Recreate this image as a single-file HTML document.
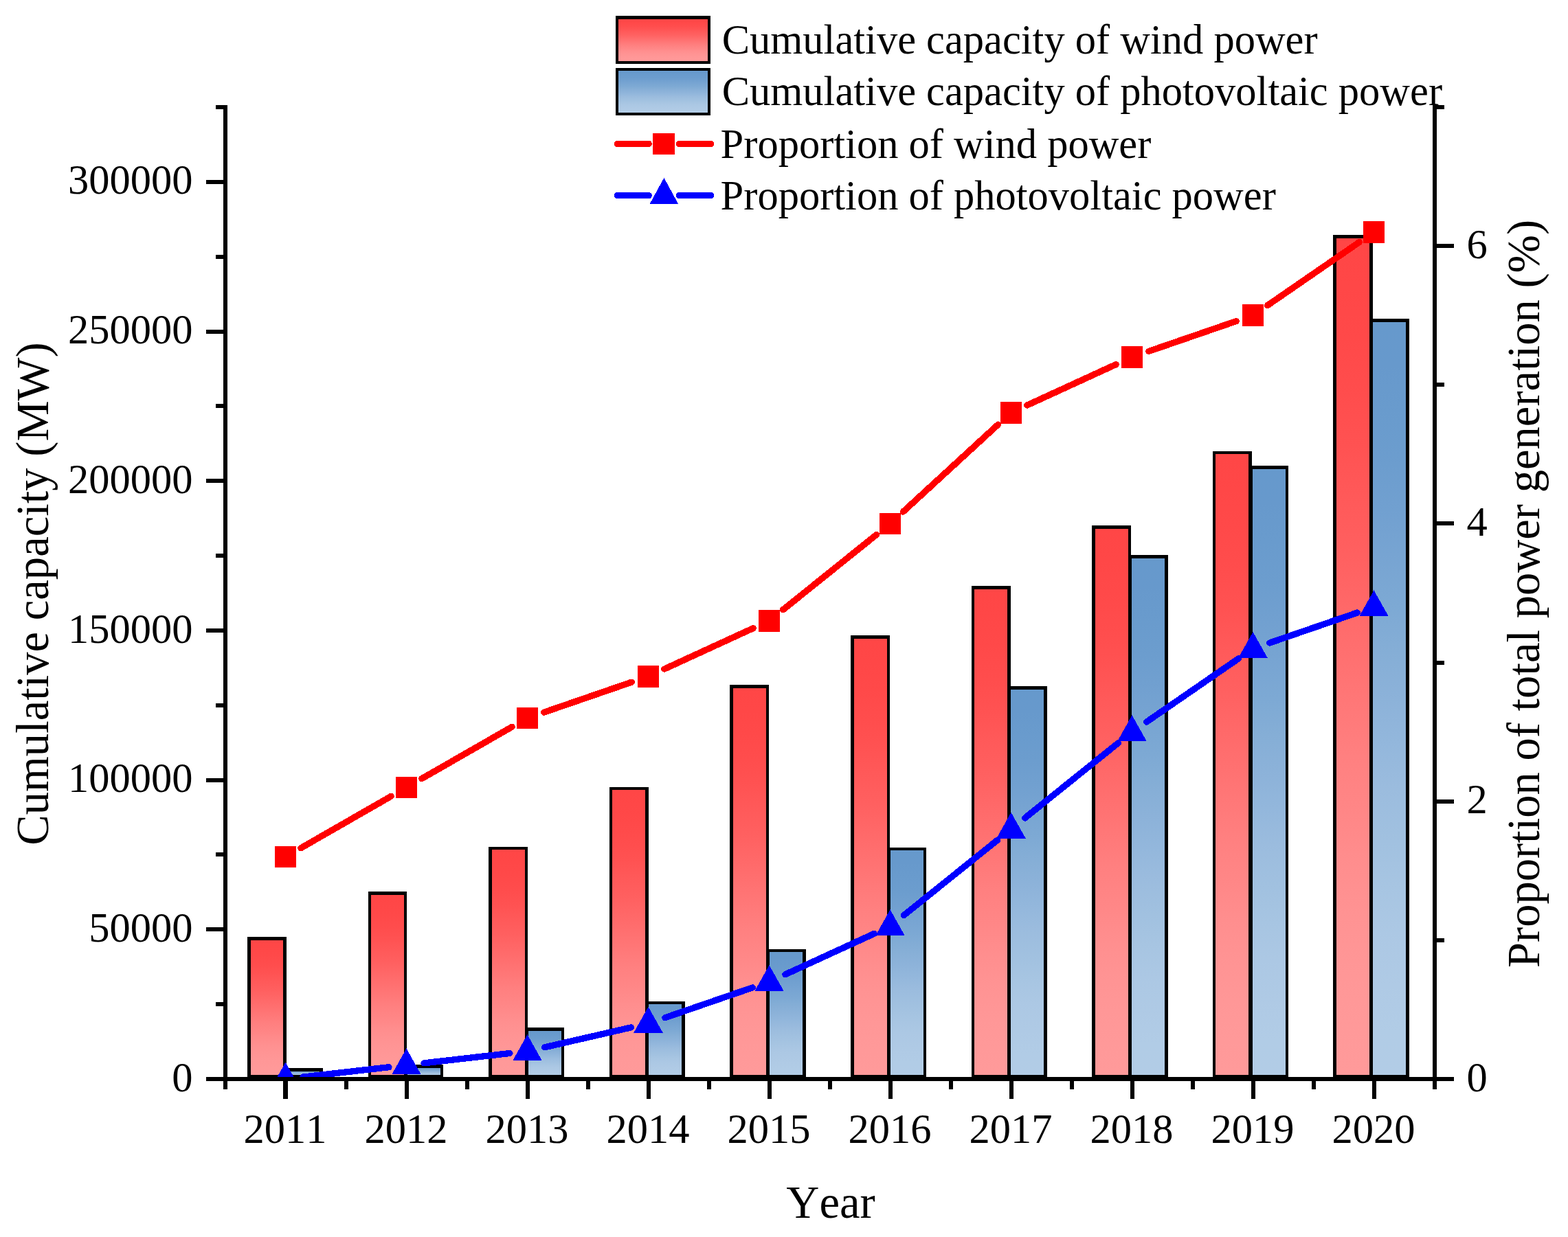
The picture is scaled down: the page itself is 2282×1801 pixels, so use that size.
<!DOCTYPE html>
<html lang="en"><head><meta charset="utf-8"><title>Cumulative capacity and proportion of wind and photovoltaic power</title>
<style>
html,body{margin:0;padding:0;background:#fff;}
body{width:2282px;height:1801px;overflow:hidden;}
svg{display:block;}
text{font-family:"Liberation Serif","Times New Roman",Times,serif;fill:#000;font-kerning:none;}
.t{font-size:60.5px;}
.a{font-size:66.6px;}
.ax{fill:#000;shape-rendering:crispEdges;}
.bar{stroke:#000;stroke-width:4.5;stroke-linejoin:miter;shape-rendering:crispEdges;}
.rl{stroke:#f00;stroke-width:9.3;stroke-linecap:round;fill:none;shape-rendering:crispEdges;}
.bl{stroke:#00f;stroke-width:9.3;stroke-linecap:round;fill:none;shape-rendering:crispEdges;}
.rm{fill:#f00;shape-rendering:crispEdges;}
.bm{fill:#00f;shape-rendering:crispEdges;}
</style></head><body>
<svg width="2282" height="1801" viewBox="0 0 2282 1801">
<defs>
<linearGradient id="gr" x1="0" y1="0" x2="0" y2="1"><stop offset="0" stop-color="#FF4646"/><stop offset="0.06" stop-color="#FF4747"/><stop offset="0.12" stop-color="#FF4949"/><stop offset="0.19" stop-color="#FF4D4D"/><stop offset="0.25" stop-color="#FF5252"/><stop offset="0.31" stop-color="#FF5959"/><stop offset="0.38" stop-color="#FF6060"/><stop offset="0.44" stop-color="#FF6868"/><stop offset="0.5" stop-color="#FF7070"/><stop offset="0.56" stop-color="#FF7878"/><stop offset="0.62" stop-color="#FF8080"/><stop offset="0.69" stop-color="#FF8787"/><stop offset="0.75" stop-color="#FF8E8E"/><stop offset="0.81" stop-color="#FF9393"/><stop offset="0.88" stop-color="#FF9797"/><stop offset="0.94" stop-color="#FF9999"/><stop offset="1" stop-color="#FF9A9A"/></linearGradient>
<linearGradient id="gb" x1="0" y1="0" x2="0" y2="1"><stop offset="0" stop-color="#6699CC"/><stop offset="0.06" stop-color="#6799CC"/><stop offset="0.12" stop-color="#699BCD"/><stop offset="0.19" stop-color="#6C9DCE"/><stop offset="0.25" stop-color="#71A0D0"/><stop offset="0.31" stop-color="#77A4D2"/><stop offset="0.38" stop-color="#7DA9D4"/><stop offset="0.44" stop-color="#85AED6"/><stop offset="0.5" stop-color="#8CB2D9"/><stop offset="0.56" stop-color="#93B7DC"/><stop offset="0.62" stop-color="#9BBCDE"/><stop offset="0.69" stop-color="#A1C1E0"/><stop offset="0.75" stop-color="#A7C5E2"/><stop offset="0.81" stop-color="#ACC8E4"/><stop offset="0.88" stop-color="#AFCAE5"/><stop offset="0.94" stop-color="#B1CCE6"/><stop offset="1" stop-color="#B2CCE6"/></linearGradient>
<clipPath id="cp"><rect x="328.0" y="0" width="1760.0" height="1571.0"/></clipPath>
</defs>
<rect x="0" y="0" width="2282" height="1801" fill="#fff"/>
<g id="bars">
<rect class="bar" fill="url(#gr)" x="362.25" y="1366.45" width="52.35" height="200.55"/>
<rect class="bar" fill="url(#gb)" x="415.2" y="1557.25" width="52.35" height="9.75"/>
<rect class="bar" fill="url(#gr)" x="537.85" y="1300.55" width="52.39" height="266.45"/>
<rect class="bar" fill="url(#gb)" x="590.84" y="1552.25" width="52.39" height="14.75"/>
<rect class="bar" fill="url(#gr)" x="713.45" y="1235.05" width="52.43" height="331.95"/>
<rect class="bar" fill="url(#gb)" x="766.48" y="1498.65" width="52.43" height="68.35"/>
<rect class="bar" fill="url(#gr)" x="889.05" y="1148.05" width="52.47" height="418.95"/>
<rect class="bar" fill="url(#gb)" x="942.12" y="1459.85" width="52.47" height="107.15"/>
<rect class="bar" fill="url(#gr)" x="1064.65" y="999.35" width="52.51" height="567.65"/>
<rect class="bar" fill="url(#gb)" x="1117.76" y="1383.75" width="52.51" height="183.25"/>
<rect class="bar" fill="url(#gr)" x="1240.25" y="927.25" width="52.55" height="639.75"/>
<rect class="bar" fill="url(#gb)" x="1293.4" y="1235.75" width="52.55" height="331.25"/>
<rect class="bar" fill="url(#gr)" x="1415.85" y="855.25" width="52.59" height="711.75"/>
<rect class="bar" fill="url(#gb)" x="1469.04" y="1001.25" width="52.59" height="565.75"/>
<rect class="bar" fill="url(#gr)" x="1591.45" y="767.25" width="52.63" height="799.75"/>
<rect class="bar" fill="url(#gb)" x="1644.68" y="810.35" width="52.63" height="756.65"/>
<rect class="bar" fill="url(#gr)" x="1767.05" y="658.75" width="52.67" height="908.25"/>
<rect class="bar" fill="url(#gb)" x="1820.32" y="680.55" width="52.67" height="886.45"/>
<rect class="bar" fill="url(#gr)" x="1942.65" y="344.45" width="52.71" height="1222.55"/>
<rect class="bar" fill="url(#gb)" x="1995.96" y="466.25" width="52.71" height="1100.75"/>
</g>
<g clip-path="url(#cp)">
<line class="rl" x1="437.79" y1="1234.77" x2="569.21" y2="1159.3"/>
<line class="rl" x1="613.79" y1="1133.7" x2="745.21" y2="1058.23"/>
<line class="rl" x1="791.8" y1="1037.06" x2="919.2" y2="993.16"/>
<line class="rl" x1="966.85" y1="974.06" x2="1096.15" y2="914.66"/>
<line class="rl" x1="1139.53" y1="887.83" x2="1275.47" y2="778.53"/>
<line class="rl" x1="1314.42" y1="745.04" x2="1452.58" y2="618.1"/>
<line class="rl" x1="1494.85" y1="589.99" x2="1624.15" y2="530.59"/>
<line class="rl" x1="1671.8" y1="511.48" x2="1799.2" y2="467.59"/>
<line class="rl" x1="1844.66" y1="444.63" x2="1978.34" y2="352.51"/>
<rect class="rm" x="399.7" y="1231.77" width="31.6" height="31.6"/>
<rect class="rm" x="575.7" y="1130.7" width="31.6" height="31.6"/>
<rect class="rm" x="751.7" y="1029.63" width="31.6" height="31.6"/>
<rect class="rm" x="927.7" y="968.99" width="31.6" height="31.6"/>
<rect class="rm" x="1103.7" y="888.13" width="31.6" height="31.6"/>
<rect class="rm" x="1279.7" y="746.63" width="31.6" height="31.6"/>
<rect class="rm" x="1455.7" y="584.91" width="31.6" height="31.6"/>
<rect class="rm" x="1631.7" y="504.06" width="31.6" height="31.6"/>
<rect class="rm" x="1807.7" y="443.41" width="31.6" height="31.6"/>
<rect class="rm" x="1983.7" y="322.13" width="31.6" height="31.6"/>
</g>
<g clip-path="url(#cp)">
<line class="bl" x1="441.03" y1="1568.07" x2="565.97" y2="1553.72"/>
<line class="bl" x1="617.03" y1="1547.85" x2="741.97" y2="1533.5"/>
<line class="bl" x1="792.55" y1="1524.82" x2="918.45" y2="1495.9"/>
<line class="bl" x1="967.8" y1="1481.77" x2="1095.2" y2="1437.87"/>
<line class="bl" x1="1142.85" y1="1418.77" x2="1272.15" y2="1359.37"/>
<line class="bl" x1="1315.53" y1="1332.54" x2="1451.47" y2="1223.25"/>
<line class="bl" x1="1491.53" y1="1191.04" x2="1627.47" y2="1081.75"/>
<line class="bl" x1="1668.66" y1="1051.06" x2="1802.34" y2="958.94"/>
<line class="bl" x1="1847.8" y1="935.98" x2="1975.2" y2="892.09"/>
<polygon class="bm" points="415.5,1546.7 436.8,1584.6 394.2,1584.6"/>
<polygon class="bm" points="591.5,1526.49 612.8,1564.39 570.2,1564.39"/>
<polygon class="bm" points="767.5,1506.27 788.8,1544.17 746.2,1544.17"/>
<polygon class="bm" points="943.5,1465.84 964.8,1503.74 922.2,1503.74"/>
<polygon class="bm" points="1119.5,1405.2 1140.8,1443.1 1098.2,1443.1"/>
<polygon class="bm" points="1295.5,1324.34 1316.8,1362.24 1274.2,1362.24"/>
<polygon class="bm" points="1471.5,1182.84 1492.8,1220.74 1450.2,1220.74"/>
<polygon class="bm" points="1647.5,1041.34 1668.8,1079.24 1626.2,1079.24"/>
<polygon class="bm" points="1823.5,920.06 1844.8,957.96 1802.2,957.96"/>
<polygon class="bm" points="1999.5,859.41 2020.8,897.31 1978.2,897.31"/>
</g>
<g id="axes" class="ax">
<rect x="325" y="153" width="6" height="1433"/>
<rect x="2085" y="153" width="6" height="1433"/>
<rect x="300" y="1568" width="1816" height="6"/>
<rect x="300" y="1568" width="28" height="6"/>
<rect x="314" y="1459.15" width="14" height="6"/>
<rect x="300" y="1350.31" width="28" height="6"/>
<rect x="314" y="1241.46" width="14" height="6"/>
<rect x="300" y="1132.62" width="28" height="6"/>
<rect x="314" y="1023.77" width="14" height="6"/>
<rect x="300" y="914.92" width="28" height="6"/>
<rect x="314" y="806.08" width="14" height="6"/>
<rect x="300" y="697.23" width="28" height="6"/>
<rect x="314" y="588.38" width="14" height="6"/>
<rect x="300" y="479.54" width="28" height="6"/>
<rect x="314" y="370.69" width="14" height="6"/>
<rect x="300" y="261.85" width="28" height="6"/>
<rect x="314" y="153" width="14" height="6"/>
<rect x="2088" y="1568" width="28" height="6"/>
<rect x="2088" y="1365.86" width="14" height="6"/>
<rect x="2088" y="1163.71" width="28" height="6"/>
<rect x="2088" y="961.57" width="14" height="6"/>
<rect x="2088" y="759.43" width="28" height="6"/>
<rect x="2088" y="557.29" width="14" height="6"/>
<rect x="2088" y="355.14" width="28" height="6"/>
<rect x="2088" y="153" width="14" height="6"/>
<rect x="412" y="1571" width="7" height="29"/>
<rect x="589" y="1571" width="6" height="29"/>
<rect x="765" y="1571" width="6" height="29"/>
<rect x="941" y="1571" width="6" height="29"/>
<rect x="1117" y="1571" width="6" height="29"/>
<rect x="1293" y="1571" width="6" height="29"/>
<rect x="1469" y="1571" width="6" height="29"/>
<rect x="1645" y="1571" width="6" height="29"/>
<rect x="1821" y="1571" width="6" height="29"/>
<rect x="1997" y="1571" width="6" height="29"/>
<rect x="501" y="1571" width="6" height="15"/>
<rect x="677" y="1571" width="6" height="15"/>
<rect x="853" y="1571" width="6" height="15"/>
<rect x="1029" y="1571" width="6" height="15"/>
<rect x="1205" y="1571" width="6" height="15"/>
<rect x="1381" y="1571" width="6" height="15"/>
<rect x="1557" y="1571" width="6" height="15"/>
<rect x="1733" y="1571" width="6" height="15"/>
<rect x="1909" y="1571" width="6" height="15"/>
</g>
<g id="ticklabels" class="t">
<text x="280.5" y="1588.6" text-anchor="end">0</text>
<text x="280.5" y="1370.91" text-anchor="end">50000</text>
<text x="280.5" y="1153.22" text-anchor="end">100000</text>
<text x="280.5" y="935.52" text-anchor="end">150000</text>
<text x="280.5" y="717.83" text-anchor="end">200000</text>
<text x="280.5" y="500.14" text-anchor="end">250000</text>
<text x="280.5" y="282.45" text-anchor="end">300000</text>
<text x="2134.5" y="1588.6">0</text>
<text x="2134.5" y="1184.31">2</text>
<text x="2134.5" y="780.03">4</text>
<text x="2134.5" y="375.74">6</text>
<text x="415.1" y="1664" text-anchor="middle">2011</text>
<text x="591.1" y="1664" text-anchor="middle">2012</text>
<text x="767.1" y="1664" text-anchor="middle">2013</text>
<text x="943.1" y="1664" text-anchor="middle">2014</text>
<text x="1119.1" y="1664" text-anchor="middle">2015</text>
<text x="1295.1" y="1664" text-anchor="middle">2016</text>
<text x="1471.1" y="1664" text-anchor="middle">2017</text>
<text x="1647.1" y="1664" text-anchor="middle">2018</text>
<text x="1823.1" y="1664" text-anchor="middle">2019</text>
<text x="1999.1" y="1664" text-anchor="middle">2020</text>
</g>
<g id="titles" class="a">
<text x="1209" y="1772.7" text-anchor="middle">Year</text>
<text transform="translate(70.3,864.5) rotate(-90)" text-anchor="middle">Cumulative capacity (MW)</text>
<text transform="translate(2239.8,864.4) rotate(-90)" text-anchor="middle">Proportion of total power generation (%)</text>
</g>
<g id="legend">
<rect class="bar" style="stroke-width:4.2" fill="url(#gr)" x="898.1" y="25.5" width="133.9" height="65.1"/>
<rect class="bar" style="stroke-width:4.2" fill="url(#gb)" x="898.1" y="100.6" width="133.9" height="65.1"/>
<line class="rl" x1="898.6" y1="209.4" x2="944.2" y2="209.4"/>
<line class="rl" x1="988.6" y1="209.4" x2="1034.5" y2="209.4"/>
<rect class="rm" x="950" y="193.6" width="32.2" height="31.3"/>
<line class="bl" x1="898.6" y1="284.6" x2="944.2" y2="284.6"/>
<line class="bl" x1="988.6" y1="284.6" x2="1034.5" y2="284.6"/>
<polygon class="bm" points="966.4,258.9 987.2,297 945.6,297"/>
<g class="t">
<text x="1050.7" y="78.2">Cumulative capacity of wind power</text>
<text x="1050.7" y="153.1">Cumulative capacity of photovoltaic power</text>
<text x="1048.6" y="230.3">Proportion of wind power</text>
<text x="1048.6" y="305.1">Proportion of photovoltaic power</text>
</g></g>
</svg></body></html>
